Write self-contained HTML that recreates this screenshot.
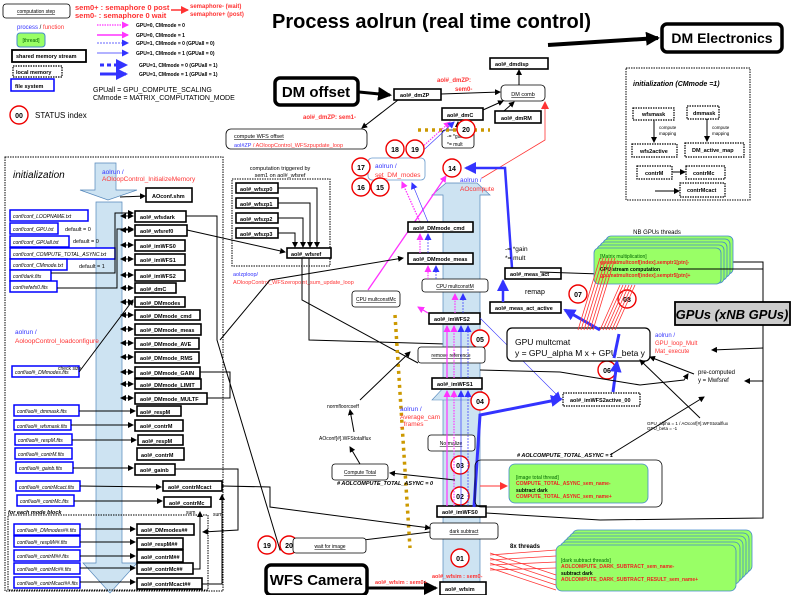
<!DOCTYPE html>
<html><head><meta charset="utf-8"><style>
html,body{margin:0;padding:0;background:#fff}
svg{display:block;font-family:"Liberation Sans",sans-serif}
.b{fill:#fff;stroke:#000;stroke-width:1.6}
.t{font-size:5.5px;font-weight:bold}
.f{fill:#fff;stroke:#00f;stroke-width:1.5}
.ft{font-size:5px;font-style:italic}
.r{fill:#fff;stroke:#e00;stroke-width:1.4}
.rt{font-size:7px;font-weight:bold;text-anchor:middle}
.l{stroke:#000;stroke-width:1;fill:none}
.red{fill:#f33}.blu{fill:#33f}
.rb{fill:#fff;stroke:#000;stroke-width:0.8}
.dot{fill:#fff;stroke:#000;stroke-width:1.2;stroke-dasharray:1.5,1}
</style></head><body>
<svg width="794" height="595" viewBox="0 0 794 595" xmlns="http://www.w3.org/2000/svg">
<defs>
<marker id="a" markerWidth="6" markerHeight="6" refX="5" refY="3" orient="auto" markerUnits="userSpaceOnUse"><path d="M0,0L6,3L0,6z" fill="#000"/></marker>
<marker id="ar" markerWidth="8" markerHeight="8" refX="7" refY="4" orient="auto" markerUnits="userSpaceOnUse"><path d="M0,0L8,4L0,8z" fill="#f33"/></marker>
<marker id="am" markerWidth="7" markerHeight="7" refX="6" refY="3.5" orient="auto" markerUnits="userSpaceOnUse"><path d="M0,0L7,3.5L0,7z" fill="#f3f"/></marker>
<marker id="ab" markerWidth="7" markerHeight="7" refX="6" refY="3.5" orient="auto" markerUnits="userSpaceOnUse"><path d="M0,0L7,3.5L0,7z" fill="#33f"/></marker>
<marker id="abb" markerWidth="12" markerHeight="12" refX="10" refY="6" orient="auto" markerUnits="userSpaceOnUse"><path d="M0,0L12,6L0,12z" fill="#33f"/></marker>
<marker id="ad" markerWidth="6" markerHeight="6" refX="1" refY="3" orient="auto" markerUnits="userSpaceOnUse"><path d="M6,0L0,3L6,6z" fill="#000"/></marker>
<marker id="aK" markerWidth="14" markerHeight="14" refX="12" refY="7" orient="auto" markerUnits="userSpaceOnUse"><path d="M0,0L14,7L0,14z" fill="#000"/></marker>
</defs>

<!-- Title -->
<text x="272" y="28" font-size="20" font-weight="bold">Process  aolrun (real time control)</text>
<rect x="662" y="24" width="120" height="28" rx="5" fill="#fff" stroke="#000" stroke-width="3.5"/>
<text x="722" y="43" font-size="14" font-weight="bold" text-anchor="middle">DM Electronics</text>
<line x1="548" y1="45" x2="658" y2="38" stroke="#000" stroke-width="4" marker-end="url(#aK)"/>

<!-- Legend -->
<rect x="3" y="4" width="67" height="14" rx="3" class="rb"/>
<text x="36" y="13" font-size="5" text-anchor="middle" text-decoration="underline">computation step</text>
<text x="75" y="10" font-size="7.5" font-weight="bold" fill="#f33">sem0+ : semaphore 0 post</text>
<text x="75" y="18" font-size="7.5" font-weight="bold" fill="#f33">sem0- : semaphore 0 wait</text>
<line x1="171" y1="10" x2="188" y2="10" stroke="#f33" stroke-width="1.5" marker-end="url(#ar)"/>
<text x="190" y="8" font-size="6" font-weight="bold" fill="#f33">semaphore- (wait)</text>
<text x="190" y="16" font-size="6" font-weight="bold" fill="#f33">semaphore+ (post)</text>
<text x="17" y="29" font-size="6"><tspan class="blu">process</tspan> / <tspan class="red">function</tspan></text>
<rect x="17" y="33" width="28" height="14" rx="3" fill="#9f6" stroke="#48c" stroke-width="1"/>
<text x="31" y="42" font-size="5" text-anchor="middle" fill="#060">[thread]</text>
<rect x="12" y="50" width="74" height="12" fill="#fff" stroke="#000" stroke-width="1.8"/>
<text x="16" y="58" class="t">shared memory stream</text>
<rect x="13" y="66" width="49" height="11" class="dot"/>
<text x="16" y="74" class="t">local memory</text>
<rect x="11" y="79" width="43" height="12" class="f"/>
<text x="15" y="88" class="t">file system</text>
<circle cx="19" cy="115" r="9" class="r"/><text x="19" y="118" class="rt">00</text>
<text x="35" y="118" font-size="8">STATUS index</text>
<g stroke-width="1.2">
<line x1="97" y1="25" x2="128" y2="25" stroke="#f3f" stroke-dasharray="1.5,1" marker-end="url(#am)"/>
<line x1="97" y1="35" x2="128" y2="35" stroke="#f3f" stroke-width="1.5" marker-end="url(#am)"/>
<line x1="97" y1="43" x2="128" y2="43" stroke="#33f" stroke-dasharray="2,1" stroke-width="0.8" marker-end="url(#ab)"/>
<line x1="97" y1="53" x2="128" y2="53" stroke="#33f" stroke-width="0.8" marker-end="url(#ab)"/>
<line x1="100" y1="65" x2="126" y2="65" stroke="#33f" stroke-width="3" stroke-dasharray="4,3" marker-end="url(#abb)"/>
<line x1="100" y1="74" x2="126" y2="74" stroke="#33f" stroke-width="3" marker-end="url(#abb)"/>
</g>
<g font-size="5" font-weight="bold">
<text x="136" y="27">GPU=0, CMmode = 0</text>
<text x="136" y="37">GPU=0, CMmode = 1</text>
<text x="136" y="45">GPU=1, CMmode = 0  (GPUall = 0)</text>
<text x="136" y="55">GPU=1, CMmode = 1  (GPUall = 0)</text>
<text x="139" y="67">GPU=1, CMmode = 0  (GPUall = 1)</text>
<text x="139" y="76">GPU=1, CMmode = 1  (GPUall = 1)</text>
</g>
<text x="93" y="92" font-size="7">GPUall = GPU_COMPUTE_SCALING</text>
<text x="93" y="100" font-size="7">CMmode = MATRIX_COMPUTATION_MODE</text>

<!-- Left init box -->
<rect x="5" y="157" width="218" height="434" fill="none" stroke="#000" stroke-width="1" stroke-dasharray="1.5,1"/>
<text x="13" y="178" font-size="10" font-style="italic">initialization</text>
<polygon points="95,163 116,163 116,190 137,190 108,200 80,190 95,190" fill="#cde3f2" stroke="#58b" stroke-width="0.7"/>
<polygon points="96,202 122,202 122,563 137,563 110,593 83,563 96,563" fill="#cde3f2" stroke="#58b" stroke-width="0.7"/>
<text x="102" y="174" font-size="6.5" class="blu">aolrun /</text>
<text x="102" y="181" font-size="6.5" class="red">AOloopControl_InitializeMemory</text>
<text x="15" y="334" font-size="6.5" class="blu">aolrun /</text>
<text x="15" y="343" font-size="6.5" class="red">AoloopControl_loadconfigure</text>

<!-- stream boxes left -->
<g class="t">
<rect x="146" y="188" width="46" height="14" class="b"/><text x="152" y="198">AOconf.shm</text>
<rect x="135" y="211" width="51" height="11" class="b"/><text x="140" y="219">aol#_wfsdark</text>
<rect x="135" y="225" width="52" height="11" class="b"/><text x="140" y="233">aol#_wfsref0</text>
<rect x="135" y="240" width="50" height="11" class="b"/><text x="140" y="248">aol#_imWFS0</text>
<rect x="135" y="254" width="50" height="11" class="b"/><text x="140" y="262">aol#_imWFS1</text>
<rect x="135" y="270" width="50" height="11" class="b"/><text x="140" y="278">aol#_imWFS2</text>
<rect x="135" y="283" width="41" height="10" class="b"/><text x="140" y="291">aol#_dmC</text>
<rect x="135" y="297" width="50" height="10" class="b"/><text x="140" y="305">aol#_DMmodes</text>
<rect x="135" y="310" width="65" height="10" class="b"/><text x="140" y="318">aol#_DMmode_cmd</text>
<rect x="135" y="324" width="66" height="11" class="b"/><text x="140" y="332">aol#_DMmode_meas</text>
<rect x="135" y="338" width="64" height="11" class="b"/><text x="140" y="346">aol#_DMmode_AVE</text>
<rect x="135" y="352" width="64" height="11" class="b"/><text x="140" y="360">aol#_DMmode_RMS</text>
<rect x="135" y="367" width="65" height="11" class="b"/><text x="140" y="375">aol#_DMmode_GAIN</text>
<rect x="135" y="379" width="66" height="10" class="b"/><text x="140" y="387">aol#_DMmode_LIMIT</text>
<rect x="135" y="393" width="72" height="11" class="b"/><text x="140" y="401">aol#_DMmode_MULTF</text>
<rect x="137" y="406" width="44" height="10" class="b"/><text x="140" y="414">aol#_respM</text>
<rect x="135" y="420" width="48" height="11" class="b"/><text x="140" y="428">aol#_contrM</text>
<rect x="138" y="435" width="45" height="10" class="b"/><text x="142" y="443">aol#_respM</text>
<rect x="137" y="448" width="47" height="12" class="b"/><text x="141" y="457">aol#_contrM</text>
<rect x="135" y="464" width="40" height="11" class="b"/><text x="140" y="472">aol#_gainb</text>
<rect x="163" y="481" width="59" height="10" class="b"/><text x="168" y="489">aol#_contrMcact</text>
<rect x="164" y="497" width="47" height="10" class="b"/><text x="169" y="505">aol#_contrMc</text>
<rect x="137" y="524" width="57" height="11" class="b"/><text x="141" y="532">aol#_DMmodes##</text>
<rect x="137" y="538" width="46" height="11" class="b"/><text x="141" y="546">aol#_respM##</text>
<rect x="137" y="550" width="46" height="12" class="b"/><text x="141" y="559">aol#_contrM##</text>
<rect x="137" y="563" width="56" height="11" class="b"/><text x="141" y="571">aol#_contrMc##</text>
<rect x="137" y="578" width="65" height="11" class="b"/><text x="141" y="586">aol#_contrMcact##</text>
</g>
<rect x="8" y="515" width="200" height="75" fill="none" stroke="#000" stroke-width="1" stroke-dasharray="1.5,1"/>
<text x="8" y="514" font-size="5.5" font-style="italic" font-weight="bold">for each mode block</text>
<text x="186" y="514" font-size="5">sum</text><text x="213" y="516" font-size="5">sum</text>

<!-- conf files -->
<g class="ft">
<rect x="10" y="210" width="78" height="11" class="f"/><text x="13" y="218">conf/conf_LOOPNAME.txt</text>
<rect x="10" y="223" width="48" height="11" class="f"/><text x="13" y="231">conf/conf_GPU.txt</text>
<rect x="10" y="236" width="59" height="11" class="f"/><text x="13" y="244">conf/conf_GPUall.txt</text>
<rect x="10" y="248" width="105" height="11" class="f"/><text x="13" y="256">conf/conf_COMPUTE_TOTAL_ASYNC.txt</text>
<rect x="10" y="259" width="57" height="11" class="f"/><text x="13" y="267">conf/conf_CMmode.txt</text>
<rect x="10" y="270" width="41" height="11" class="f"/><text x="13" y="278">conf/dark.fits</text>
<rect x="10" y="281" width="47" height="11" class="f"/><text x="13" y="289">conf/refwfs0.fits</text>
<rect x="12" y="366" width="67" height="11" class="f"/><text x="15" y="374">conf/aol#_DMmodes.fits</text>
<rect x="14" y="405" width="65" height="11" class="f"/><text x="17" y="413">conf/aol#_dmmask.fits</text>
<rect x="14" y="420" width="57" height="10" class="f"/><text x="17" y="428">conf/aol#_wfsmask.fits</text>
<rect x="15" y="434" width="57" height="11" class="f"/><text x="18" y="442">conf/aol#_respM.fits</text>
<rect x="15" y="448" width="57" height="11" class="f"/><text x="18" y="456">conf/aol#_contrM.fits</text>
<rect x="16" y="462" width="57" height="11" class="f"/><text x="19" y="470">conf/aol#_gainb.fits</text>
<rect x="16" y="481" width="64" height="10" class="f"/><text x="19" y="489">conf/aol#_contrMcact.fits</text>
<rect x="17" y="495" width="57" height="11" class="f"/><text x="20" y="503">conf/aol#_contrMc.fits</text>
<rect x="14" y="524" width="66" height="11" class="f"/><text x="17" y="532">conf/aol#_DMmodes##.fits</text>
<rect x="14" y="536" width="66" height="11" class="f"/><text x="17" y="544">conf/aol#_respM##.fits</text>
<rect x="14" y="550" width="66" height="11" class="f"/><text x="17" y="558">conf/aol#_contrM##.fits</text>
<rect x="14" y="563" width="66" height="11" class="f"/><text x="17" y="571">conf/aol#_contrMc##.fits</text>
<rect x="14" y="577" width="66" height="11" class="f"/><text x="17" y="585">conf/aol#_contrMcact##.fits</text>
</g>
<text x="65" y="231" font-size="5.5">default = 0</text>
<text x="73" y="243" font-size="5.5">default = 0</text>
<text x="79" y="268" font-size="5.5">default = 1</text>
<text x="58" y="370" font-size="5">check size</text>

<!-- left connectors -->
<g class="l" marker-end="url(#a)">
<line x1="120" y1="197" x2="145" y2="196"/>
<polyline points="51,273 115,273 115,213 133,213"/>
<polyline points="57,288 117,288 117,229 133,229"/>
<line x1="79" y1="372" x2="133" y2="300"/>
<line x1="79" y1="411" x2="135" y2="411"/>
<line x1="71" y1="425" x2="133" y2="425"/>
<line x1="72" y1="440" x2="136" y2="440"/>
<line x1="73" y1="468" x2="133" y2="468"/>
<line x1="80" y1="486" x2="161" y2="487"/>
<line x1="74" y1="501" x2="162" y2="501"/>
<line x1="80" y1="529" x2="135" y2="529"/>
<line x1="80" y1="542" x2="135" y2="542"/>
<line x1="80" y1="556" x2="135" y2="556"/>
<line x1="80" y1="568" x2="135" y2="568"/>
<line x1="80" y1="582" x2="135" y2="582"/>
<polyline points="193,569 200,569 200,512"/>
<polyline points="202,584 222,584 222,495"/>
</g>
<g stroke="#000" stroke-width="1" marker-start="url(#ad)" marker-end="url(#a)">
<line x1="121" y1="216" x2="133" y2="216"/><line x1="121" y1="230" x2="133" y2="230"/>
<line x1="121" y1="245" x2="133" y2="245"/><line x1="121" y1="259" x2="133" y2="259"/>
<line x1="121" y1="275" x2="133" y2="275"/><line x1="121" y1="288" x2="133" y2="288"/>
<line x1="121" y1="302" x2="133" y2="302"/><line x1="121" y1="315" x2="133" y2="315"/>
<line x1="121" y1="329" x2="133" y2="329"/><line x1="121" y1="343" x2="133" y2="343"/>
<line x1="121" y1="357" x2="133" y2="357"/><line x1="121" y1="372" x2="133" y2="372"/>
<line x1="121" y1="384" x2="133" y2="384"/><line x1="121" y1="398" x2="133" y2="398"/>
</g>
<polyline class="l" points="175,469 238,469 238,530 203,532" marker-end="url(#a)"/>
<polyline class="l" points="186,216 217,216 217,340 280,550 430,532"/>
<polyline class="l" points="200,372 230,372 230,398 207,398"/>

<!-- zp block -->
<text x="280" y="170" font-size="5.5" text-anchor="middle">computation triggered by</text>
<text x="280" y="177" font-size="5.5" text-anchor="middle">sem1 on aol#_wfsref</text>
<rect x="232" y="179" width="98" height="87" fill="none" stroke="#000" stroke-dasharray="1.5,1"/>
<g class="t">
<rect x="236" y="183" width="42" height="10" class="b"/><text x="240" y="191">aol#_wfszp0</text>
<rect x="236" y="198" width="42" height="10" class="b"/><text x="240" y="206">aol#_wfszp1</text>
<rect x="236" y="213" width="42" height="10" class="b"/><text x="240" y="221">aol#_wfszp2</text>
<rect x="236" y="228" width="42" height="10" class="b"/><text x="240" y="236">aol#_wfszp3</text>
<rect x="287" y="248" width="44" height="10" class="b"/><text x="291" y="256">aol#_wfsref</text>
</g>
<g class="l" marker-end="url(#a)">
<polyline points="278,188 317,188 317,247"/><polyline points="278,203 310,203 310,247"/>
<polyline points="278,218 303,218 303,247"/><polyline points="278,233 295,233 295,247"/>
<polyline points="187,230 285,252"/>
</g>
<text x="233" y="276" font-size="5.5" class="blu">aolzploop/</text>
<text x="233" y="284" font-size="5.5" class="red">AOloopControl_WFSzeropoint_sum_update_loop</text>
<polyline class="l" points="302,258 302,300 418,363"/>
<polyline class="l" points="309,258 309,340 480,345"/>

<!-- DM offset/top -->
<rect x="275" y="78" width="83" height="27" rx="5" fill="#fff" stroke="#000" stroke-width="3.5"/>
<text x="316" y="97" font-size="15" font-weight="bold" text-anchor="middle">DM offset</text>
<line x1="359" y1="92" x2="390" y2="95" stroke="#000" stroke-width="3" marker-end="url(#aK)"/>
<g class="t">
<rect x="394" y="89" width="47" height="11" class="b"/><text x="400" y="97">aol#_dmZP</text>
<rect x="442" y="108" width="41" height="12" class="b"/><text x="447" y="117">aol#_dmC</text>
<rect x="495" y="111" width="46" height="12" class="b"/><text x="501" y="120">aol#_dmRM</text>
<rect x="490" y="58" width="58" height="11" class="b"/><text x="495" y="66">aol#_dmdisp</text>
</g>
<rect x="501" y="85" width="44" height="16" rx="4" class="rb"/>
<text x="523" y="96" font-size="5.5" text-anchor="middle" text-decoration="underline">DM comb</text>
<g class="l" marker-end="url(#a)">
<line x1="441" y1="94" x2="500" y2="92"/><line x1="483" y1="110" x2="503" y2="101"/>
<line x1="504" y1="111" x2="514" y2="102"/><line x1="519" y1="85" x2="519" y2="70"/>
<line x1="398" y1="100" x2="362" y2="128"/>
</g>
<text x="437" y="82" font-size="6" font-weight="bold" fill="#f33">aol#_dmZP:</text>
<text x="455" y="91" font-size="6" font-weight="bold" fill="#f33">sem0-</text>
<text x="303" y="119" font-size="6" font-weight="bold" fill="#f33">aol#_dmZP: sem1-</text>
<rect x="226" y="129" width="141" height="20" rx="5" class="rb"/>
<text x="234" y="138" font-size="5.5" text-decoration="underline">compute WFS offset</text>
<text x="234" y="147" font-size="5.5"><tspan class="blu">aol#ZP</tspan><tspan class="red"> / AOloopControl_WFSzpupdate_loop</tspan></text>
<rect x="442" y="130" width="32" height="18" rx="3" class="rb"/>
<text x="447" y="138" font-size="5">-= *gain</text><text x="447" y="146" font-size="5">*= mult</text>
<line x1="458" y1="130" x2="458" y2="122" stroke="#000" marker-end="url(#a)"/>
<line x1="418" y1="130" x2="490" y2="130" stroke="#c90" stroke-width="3.5" stroke-dasharray="3,4"/>

<!-- big blue arrow -->
<polygon points="443,595 443,195 432,195 446,183 477,183 490,195 480,195 480,595" fill="#cde3f2" stroke="#58b" stroke-width="0.7"/>
<polygon points="432,400 445,386 477,386 490,400" fill="#cde3f2" stroke="#58b" stroke-width="0.6"/>

<!-- set_DM_modes -->
<rect x="368" y="158" width="57" height="22" rx="4" fill="#fff" stroke="#69c" stroke-width="0.8"/>
<text x="375" y="168" font-size="6.5" class="blu">aolrun /</text>
<text x="375" y="177" font-size="6.5" class="red">set_DM_modes</text>
<text x="460" y="182" font-size="6.5" class="blu">aolrun /</text>
<text x="460" y="191" font-size="6.5" class="red">AOcompute</text>
<polyline points="482,178 545,140 545,102" fill="none" stroke="#f33" stroke-width="0.8" marker-end="url(#ar)"/>
<line x1="410" y1="158" x2="450" y2="122" stroke="#f3f" stroke-width="1.2" stroke-dasharray="1.5,1.2" marker-end="url(#am)"/>
<line x1="415" y1="158" x2="454" y2="122" stroke="#33f" stroke-width="0.6" marker-end="url(#ab)"/>
<line x1="368" y1="290" x2="446" y2="176" stroke="#f3f" stroke-width="1.3" marker-end="url(#am)"/>
<line x1="420" y1="222" x2="402" y2="182" stroke="#f3f" stroke-width="1.3" stroke-dasharray="1.5,1.2" marker-end="url(#am)"/>
<line x1="428" y1="222" x2="412" y2="183" stroke="#33f" stroke-width="0.6" marker-end="url(#ab)"/>
<polyline points="512,268 505,168 466,168" fill="none" stroke="#33f" stroke-width="2.5" marker-end="url(#abb)"/>

<!-- circles -->
<g>
<circle cx="466" cy="129" r="9" class="r"/><text x="466" y="132" class="rt">20</text>
<circle cx="395" cy="149" r="9" class="r"/><text x="395" y="152" class="rt">18</text>
<circle cx="415" cy="149" r="9" class="r"/><text x="415" y="152" class="rt">19</text>
<circle cx="361" cy="167" r="9" class="r"/><text x="361" y="170" class="rt">17</text>
<circle cx="361" cy="187" r="9" class="r"/><text x="361" y="190" class="rt">16</text>
<circle cx="380" cy="187" r="9" class="r"/><text x="380" y="190" class="rt">15</text>
<circle cx="452" cy="168" r="9" class="r"/><text x="452" y="171" class="rt">14</text>
<circle cx="480" cy="339" r="9" class="r"/><text x="480" y="342" class="rt">05</text>
<circle cx="480" cy="401" r="9" class="r"/><text x="480" y="404" class="rt">04</text>
<circle cx="460" cy="465" r="9" class="r"/><text x="460" y="468" class="rt">03</text>
<circle cx="460" cy="496" r="9" class="r"/><text x="460" y="499" class="rt">02</text>
<circle cx="460" cy="558" r="9" class="r"/><text x="460" y="561" class="rt">01</text>
<circle cx="587" cy="338" r="9" class="r"/><text x="587" y="341" class="rt">10</text>
<circle cx="608" cy="338" r="9" class="r"/><text x="608" y="341" class="rt">09</text>
<circle cx="578" cy="294" r="9" class="r"/><text x="578" y="297" class="rt">07</text>
<circle cx="627" cy="299" r="9" class="r"/><text x="627" y="302" class="rt">08</text>
<circle cx="607" cy="370" r="9" class="r"/><text x="607" y="373" class="rt">06</text>
<circle cx="267" cy="545" r="9" class="r"/><text x="267" y="548" class="rt">19</text>
<circle cx="289" cy="545" r="9" class="r"/><text x="289" y="548" class="rt">20</text>
</g>

<!-- middle stream boxes -->
<g class="t">
<rect x="408" y="222" width="65" height="10" class="b"/><text x="413" y="230">aol#_DMmode_cmd</text>
<rect x="408" y="253" width="65" height="11" class="b"/><text x="413" y="261">aol#_DMmode_meas</text>
<rect x="429" y="313" width="51" height="11" class="b"/><text x="434" y="321">aol#_imWFS2</text>
<rect x="505" y="268" width="56" height="11" class="b"/><text x="510" y="276">aol#_meas_act</text>
<rect x="490" y="302" width="71" height="11" class="b"/><text x="495" y="310">aol#_meas_act_active</text>
<rect x="432" y="378" width="50" height="11" class="b"/><text x="437" y="386">aol#_imWFS1</text>
<rect x="437" y="506" width="49" height="11" class="b"/><text x="442" y="514">aol#_imWFS0</text>
<rect x="440" y="582" width="46" height="13" class="b"/><text x="445" y="591">aol#_wfsim</text>
<rect x="563" y="393" width="77" height="13" class="dot"/><text x="570" y="402">aol#_imWFS2active_00</text>
</g>
<text x="505" y="251" font-size="6.5">-= *gain</text><text x="505" y="260" font-size="6.5">*= mult</text>
<text x="525" y="294" font-size="7">remap</text>
<rect x="422" y="279" width="66" height="13" rx="3" class="rb"/><text x="455" y="288" font-size="5" text-anchor="middle" text-decoration="underline">CPU multconstM</text>
<rect x="352" y="291" width="48" height="16" rx="3" class="rb"/><text x="376" y="301" font-size="5" text-anchor="middle" text-decoration="underline">CPU multconstMc</text>
<rect x="418" y="347" width="67" height="16" rx="3" class="rb"/><text x="451" y="357" font-size="5" text-anchor="middle" text-decoration="underline">remove reference</text>
<rect x="428" y="435" width="47" height="16" rx="3" class="rb"/><text x="451" y="445" font-size="5" text-anchor="middle" text-decoration="underline">Normalize</text>
<rect x="332" y="464" width="56" height="16" rx="3" class="rb"/><text x="360" y="474" font-size="5" text-anchor="middle" text-decoration="underline">Compute Total</text>
<rect x="430" y="523" width="68" height="16" rx="3" class="rb"/><text x="464" y="533" font-size="5" text-anchor="middle" text-decoration="underline">dark subtract</text>
<rect x="293" y="538" width="73" height="15" rx="3" class="rb"/><text x="330" y="548" font-size="5" text-anchor="middle" text-decoration="underline">wait for image</text>
<line x1="503" y1="302" x2="503" y2="281" stroke="#33f" stroke-width="2.5" marker-end="url(#abb)"/>
<g stroke-width="1.2">
<line x1="447" y1="506" x2="447" y2="391" stroke="#f3f" marker-end="url(#am)"/>
<line x1="454" y1="506" x2="454" y2="391" stroke="#f3f" stroke-dasharray="1.5,1.2" marker-end="url(#am)"/>
<line x1="461" y1="506" x2="461" y2="391" stroke="#33f" stroke-width="0.7" marker-end="url(#ab)"/>
<line x1="468" y1="506" x2="468" y2="391" stroke="#33f" stroke-width="0.7" stroke-dasharray="2,1" marker-end="url(#ab)"/>
<line x1="447" y1="378" x2="447" y2="326" stroke="#f3f" marker-end="url(#am)"/>
<line x1="454" y1="378" x2="454" y2="326" stroke="#f3f" stroke-dasharray="1.5,1.2" marker-end="url(#am)"/>
<line x1="461" y1="378" x2="461" y2="326" stroke="#33f" stroke-width="0.7" marker-end="url(#ab)"/>
<line x1="468" y1="378" x2="468" y2="326" stroke="#33f" stroke-width="0.7" stroke-dasharray="2,1" marker-end="url(#ab)"/>
<line x1="428" y1="313" x2="418" y2="307" stroke="#f3f" marker-end="url(#am)"/>
<line x1="455" y1="313" x2="455" y2="294" stroke="#f3f" stroke-dasharray="1.5,1.2" marker-end="url(#am)"/>
<line x1="463" y1="313" x2="463" y2="294" stroke="#33f" stroke-width="0.7" stroke-dasharray="2,1" marker-end="url(#ab)"/>
<line x1="428" y1="279" x2="428" y2="266" stroke="#f3f" stroke-dasharray="1.5,1.2" marker-end="url(#am)"/>
<line x1="436" y1="279" x2="436" y2="266" stroke="#33f" stroke-width="0.7" stroke-dasharray="2,1" marker-end="url(#ab)"/>
<line x1="420" y1="253" x2="420" y2="234" stroke="#f3f" stroke-dasharray="1.5,1.2" marker-end="url(#am)"/>
<line x1="428" y1="253" x2="428" y2="234" stroke="#33f" stroke-width="0.7" stroke-dasharray="2,1" marker-end="url(#ab)"/>
</g>
<line x1="480" y1="318" x2="560" y2="398" stroke="#33f" stroke-width="0.6" marker-end="url(#ab)"/>
<polyline points="474,507 480,415 561,399" fill="none" stroke="#33f" stroke-width="3" marker-end="url(#abb)"/>
<line x1="395" y1="315" x2="410" y2="548" stroke="#c90" stroke-width="3.5" stroke-dasharray="3,4"/>
<polyline class="l" points="222,486 270,487 270,507 430,528" marker-end="url(#a)"/>
<polyline class="l" points="220,340 270,280 403,258" marker-end="url(#a)"/>
<line x1="455" y1="480" x2="390" y2="473" stroke="#000" stroke-width="1" marker-end="url(#a)"/>
<line x1="360" y1="464" x2="350" y2="447" stroke="#000" marker-end="url(#a)"/>
<line x1="354" y1="432" x2="350" y2="410" stroke="#000" marker-end="url(#a)"/>
<line x1="360" y1="400" x2="410" y2="352" stroke="#000" marker-end="url(#a)"/>
<text x="327" y="408" font-size="5">normfloorcoeff</text>
<text x="319" y="440" font-size="5">AOconf[#].WFStotalflux</text>
<text x="337" y="485" font-size="5.5" font-weight="bold" font-style="italic"># AOLCOMPUTE_TOTAL_ASYNC = 0</text>
<text x="400" y="411" font-size="6.5" class="blu">aolrun /</text>
<text x="400" y="419" font-size="6.5" class="red">Average_cam</text>
<text x="400" y="426" font-size="6.5" class="red">_frames</text>

<!-- GPU mult -->
<rect x="507" y="328" width="143" height="33" rx="5" fill="#fff" stroke="#000" stroke-width="1.2"/>
<text x="515" y="345" font-size="8.5">GPU multcmat</text>
<text x="515" y="356" font-size="8.5">y = GPU_alpha M x + GPU_beta y</text>
<line x1="614" y1="358" x2="619" y2="334" stroke="#33f" stroke-width="3" transform="translate(0,0)"/>
<line x1="613" y1="392" x2="617" y2="362" stroke="#33f" stroke-width="3" marker-end="url(#abb)"/>
<line x1="600" y1="330" x2="565" y2="310" stroke="#33f" stroke-width="3" marker-end="url(#abb)"/>
<polyline class="l" points="480,370 560,372 640,385 684,380 688,374" marker-end="url(#a)"/>
<line x1="694" y1="374" x2="650" y2="357" stroke="#000" marker-end="url(#a)"/>
<line x1="700" y1="418" x2="640" y2="360" stroke="#000" marker-end="url(#a)"/>
<text x="655" y="337" font-size="6" class="blu">aolrun /</text>
<text x="655" y="345" font-size="6" class="red">GPU_loop_Mult</text>
<text x="655" y="353" font-size="6" class="red">Mat_execute</text>
<text x="698" y="374" font-size="6">pre-computed</text>
<text x="698" y="382" font-size="6">y = Mwfsref</text>
<text x="647" y="425" font-size="4.5">GPU_alpha = 1 / AOconf[#].WFStotalflux</text>
<text x="647" y="430" font-size="4.5">GPU_beta = -1</text>
<polyline class="l" points="540,272 600,274 640,262 763,262 763,518 600,520 486,513"/>
<line x1="763" y1="348" x2="712" y2="350" stroke="#000" marker-end="url(#a)"/>
<line x1="763" y1="381" x2="745" y2="381" stroke="#000" marker-end="url(#a)"/>
<line x1="610" y1="455" x2="704" y2="397" stroke="#000" marker-end="url(#a)"/>

<!-- GPU threads -->
<g stroke="#48c" stroke-width="0.8" fill="#9f6">
<rect x="606" y="236" width="127" height="38" rx="5"/>
<rect x="603" y="239" width="127" height="38" rx="5"/>
<rect x="600" y="242" width="127" height="38" rx="5"/>
<rect x="597" y="245" width="127" height="38" rx="5"/>
<rect x="594" y="248" width="127" height="36" rx="5"/>
</g>
<text x="657" y="234" font-size="6" text-anchor="middle">NB GPUs threads</text>
<text x="600" y="258" font-size="5" fill="#060">[Matrix multiplication]</text>
<text x="600" y="264" font-size="5" font-weight="bold" fill="#e22">gpumatmultconf[index].semptr1[ptn]-</text>
<text x="600" y="271" font-size="5" font-weight="bold">GPU stream computation</text>
<text x="600" y="277" font-size="5" font-weight="bold" fill="#e22">gpumatmultconf[index].semptr5[ptn]+</text>
<polyline class="l" points="678,269 763,269 763,302"/>
<rect x="675" y="302" width="115" height="23" fill="#ccc" stroke="#000" stroke-width="1.8"/>
<text x="732" y="319" font-size="13" font-weight="bold" font-style="italic" text-anchor="middle">GPUs (xNB GPUs)</text>
<g stroke="#f33" stroke-width="0.8">
<line x1="578" y1="330" x2="600" y2="258"/><line x1="581" y1="330" x2="603" y2="258"/><line x1="584" y1="330" x2="606" y2="258"/><line x1="587" y1="330" x2="609" y2="258"/><line x1="590" y1="330" x2="612" y2="258"/><line x1="593" y1="330" x2="615" y2="258"/>
<line x1="600" y1="330" x2="620" y2="285"/><line x1="603" y1="330" x2="623" y2="285"/><line x1="606" y1="330" x2="626" y2="285"/><line x1="609" y1="330" x2="629" y2="285"/><line x1="612" y1="330" x2="632" y2="285"/><line x1="615" y1="330" x2="635" y2="285"/>
</g>

<!-- init CMmode=1 -->
<rect x="626" y="68" width="124" height="132" fill="none" stroke="#000" stroke-dasharray="1.5,1"/>
<text x="633" y="86" font-size="7" font-weight="bold" font-style="italic">initialization (CMmode =1)</text>
<g class="t">
<rect x="633" y="108" width="41" height="12" class="dot"/><text x="642" y="116">wfsmask</text>
<rect x="687" y="106" width="32" height="13" class="dot"/><text x="693" y="115">dmmask</text>
<rect x="632" y="144" width="45" height="13" class="dot"/><text x="640" y="153">wfs2active</text>
<rect x="685" y="143" width="59" height="14" class="dot"/><text x="692" y="152">DM_active_map</text>
<rect x="637" y="166" width="35" height="13" class="dot"/><text x="645" y="175">contrM</text>
<rect x="686" y="166" width="39" height="13" class="dot"/><text x="693" y="175">contrMc</text>
<rect x="680" y="183" width="45" height="14" class="dot"/><text x="687" y="192">contrMcact</text>
</g>
<g class="l" marker-end="url(#a)">
<line x1="654" y1="120" x2="654" y2="142"/><line x1="707" y1="119" x2="707" y2="141"/>
<line x1="672" y1="172" x2="685" y2="172"/><line x1="655" y1="191" x2="679" y2="191"/>
</g>
<text x="659" y="129" font-size="4.5">compute</text><text x="659" y="135" font-size="4.5">mapping</text>
<text x="712" y="129" font-size="4.5">compute</text><text x="712" y="135" font-size="4.5">mapping</text>

<!-- image total thread -->
<text x="517" y="457" font-size="5.5" font-weight="bold" font-style="italic"># AOLCOMPUTE_TOTAL_ASYNC = 1</text>
<rect x="475" y="460" width="187" height="47" rx="6" fill="none" stroke="#000" stroke-width="0.8"/>
<rect x="509" y="464" width="139" height="39" rx="6" fill="#9f6" stroke="#48c" stroke-width="0.8"/>
<text x="516" y="479" font-size="5" fill="#060">[image total thread]</text>
<text x="516" y="485" font-size="5" font-weight="bold" fill="#e22">COMPUTE_TOTAL_ASYNC_sem_name-</text>
<text x="516" y="492" font-size="5" font-weight="bold">subtract dark</text>
<text x="516" y="498" font-size="5" font-weight="bold" fill="#e22">COMPUTE_TOTAL_ASYNC_sem_name+</text>
<line x1="480" y1="486" x2="507" y2="486" stroke="#f33" stroke-width="1" marker-end="url(#ar)"/>

<!-- dark subtract threads -->
<g stroke="#48c" stroke-width="0.8" fill="#9f6">
<rect x="572" y="530" width="180" height="42" rx="6"/><rect x="569" y="533" width="180" height="42" rx="6"/>
<rect x="566" y="536" width="180" height="42" rx="6"/><rect x="563" y="539" width="180" height="42" rx="6"/>
<rect x="560" y="542" width="180" height="42" rx="6"/><rect x="556" y="545" width="180" height="46" rx="6"/>
</g>
<text x="510" y="548" font-size="6" font-weight="bold">8x threads</text>
<text x="561" y="562" font-size="5" fill="#060">[dark subtract threads]</text>
<text x="561" y="568" font-size="5" font-weight="bold" fill="#e22">AOLCOMPUTE_DARK_SUBTRACT_sem_name-</text>
<text x="561" y="575" font-size="5" font-weight="bold">subtract dark</text>
<text x="561" y="581" font-size="5" font-weight="bold" fill="#e22">AOLCOMPUTE_DARK_SUBTRACT_RESULT_sem_name+</text>
<g stroke="#f33" stroke-width="0.8">
<line x1="490" y1="555" x2="556" y2="550"/><line x1="490" y1="560" x2="556" y2="556"/><line x1="490" y1="565" x2="556" y2="562"/>
<line x1="490" y1="570" x2="556" y2="568"/><line x1="490" y1="553" x2="556" y2="575"/><line x1="490" y1="558" x2="556" y2="580"/>
<line x1="490" y1="563" x2="556" y2="585"/><line x1="490" y1="568" x2="556" y2="590"/>
</g>

<!-- WFS camera -->
<rect x="266" y="565" width="101" height="30" rx="5" fill="#fff" stroke="#000" stroke-width="3.5"/>
<text x="316" y="585" font-size="15" font-weight="bold" text-anchor="middle">WFS Camera</text>
<line x1="368" y1="588" x2="436" y2="588" stroke="#000" stroke-width="3" marker-end="url(#aK)"/>
<text x="375" y="584" font-size="5.5" font-weight="bold" fill="#f33">aol#_wfsim : sem0+</text>
<text x="432" y="578" font-size="5.5" font-weight="bold" fill="#f33">aol#_wfsim : sem0-</text>
</svg>
</body></html>
